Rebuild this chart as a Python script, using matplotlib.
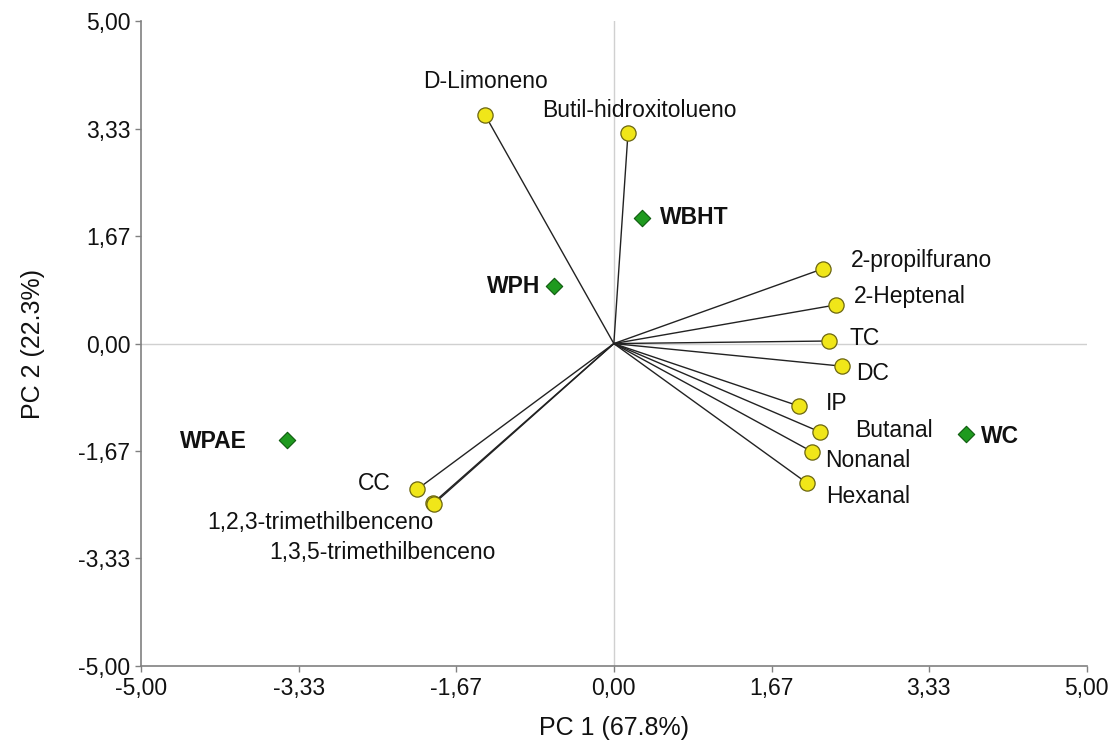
import matplotlib
matplotlib.use("Agg")
import matplotlib.pyplot as plt

plt.rcParams["font.family"] = ["Liberation Sans", "DejaVu Sans"]

# Variable loadings (PC1, PC2)
var_names = ["D-Limoneno", "Butil-hidroxitolueno", "2-propilfurano", "2-Heptenal",
             "TC", "DC", "IP", "Butanal", "Nonanal", "Hexanal", "CC",
             "1,2,3-trimethilbenceno", "1,3,5-trimethilbenceno"]
var_pc1 = [-1.36, 0.15, 2.21, 2.35, 2.27, 2.41, 1.96, 2.18, 2.10, 2.04, -2.08, -1.91, -1.90]
var_pc2 = [3.54, 3.27, 1.16, 0.60, 0.04, -0.35, -0.97, -1.37, -1.68, -2.16, -2.26, -2.47, -2.48]

# Sample scores
obs_names = ["WBHT", "WPH", "WC", "WPAE"]
obs_pc1 = [0.30, -0.63, 3.72, -3.45]
obs_pc2 = [1.95, 0.89, -1.40, -1.49]

ticks = [-5.00, -3.33, -1.67, 0.00, 1.67, 3.33, 5.00]
tick_labels = ["-5,00", "-3,33", "-1,67", "0,00", "1,67", "3,33", "5,00"]

# label offsets in points and alignment
var_label_pos = {
    "D-Limoneno": ((0, 24), "center"),
    "Butil-hidroxitolueno": ((8, 16), "center"),
    "2-propilfurano": ((20, 6), "left"),
    "2-Heptenal": ((13, 6), "left"),
    "TC": ((15, 2), "left"),
    "DC": ((10, -5), "left"),
    "IP": ((19, 2), "left"),
    "Butanal": ((25, 1), "left"),
    "Nonanal": ((9, -6), "left"),
    "Hexanal": ((14, -10), "left"),
    "CC": ((-19, 4), "right"),
    "1,2,3-trimethilbenceno": ((0, -14), "right"),
    "1,3,5-trimethilbenceno": ((-37, -35), "center"),
}
obs_label_pos = {
    "WBHT": ((13, 0), "left"),
    "WPH": ((-10, 0), "right"),
    "WC": ((11, -2), "left"),
    "WPAE": ((-29, -1), "right"),
}

fig = plt.figure(figsize=(11.09, 7.51), dpi=100)
ax = fig.add_axes([0.127, 0.113, 0.853, 0.859])

ax.axhline(0, color="#d0d0d0", lw=1, zorder=0)
ax.axvline(0, color="#d0d0d0", lw=1, zorder=0)

for x, y in zip(var_pc1, var_pc2):
    ax.plot([0, x], [0, y], color="#222222", lw=1, zorder=1)

ax.scatter(var_pc1, var_pc2, s=120, c="#f0e619", edgecolors="#6b6510",
           linewidths=0.9, zorder=3)
ax.scatter(obs_pc1, obs_pc2, s=70, marker="D", c="#1f9a1f", edgecolors="#0d5a0d",
           linewidths=0.8, zorder=3)

for name, x, y in zip(var_names, var_pc1, var_pc2):
    off, ha = var_label_pos[name]
    ax.annotate(name, (x, y), xytext=off, textcoords="offset points",
                ha=ha, va="center", fontsize=16.5, color="#111111")

for name, x, y in zip(obs_names, obs_pc1, obs_pc2):
    off, ha = obs_label_pos[name]
    ax.annotate(name, (x, y), xytext=off, textcoords="offset points",
                ha=ha, va="center", fontsize=16.5, fontweight="bold", color="#111111")

ax.set_xlim(-5, 5)
ax.set_ylim(-5, 5)
ax.set_xticks(ticks)
ax.set_xticklabels(tick_labels)
ax.set_yticks(ticks)
ax.set_yticklabels(tick_labels)
ax.tick_params(labelsize=16.5, length=4, width=1, color="#808080", labelcolor="#111111")

for side in ["top", "right"]:
    ax.spines[side].set_visible(False)
for side in ["left", "bottom"]:
    ax.spines[side].set_color("#808080")
    ax.spines[side].set_linewidth(1.2)

ax.set_xlabel("PC 1 (67.8%)", fontsize=18, labelpad=12, color="#111111")
ax.set_ylabel("PC 2 (22.3%)", fontsize=18, labelpad=24, color="#111111")

fig.savefig("out.png", dpi=100)
